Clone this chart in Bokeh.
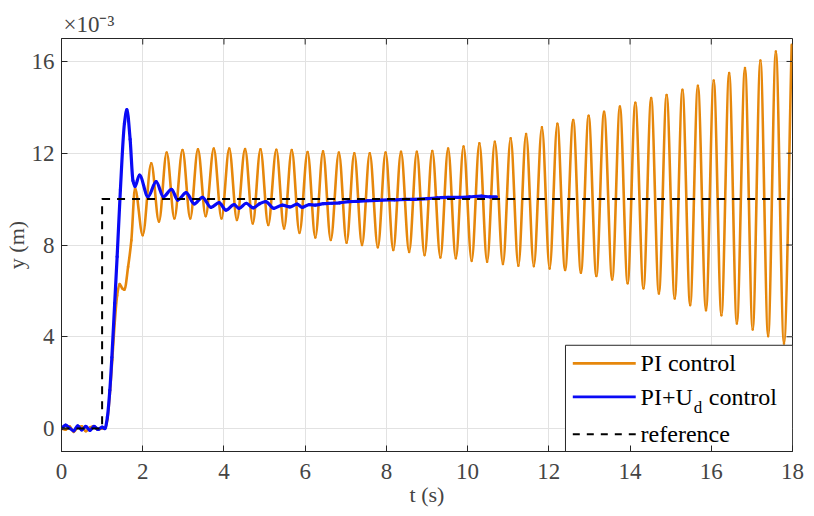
import numpy as np
from bokeh.plotting import figure
from bokeh.models import FixedTicker, Range1d
from bokeh.core.properties import value
from bokeh.embed import file_html
from bokeh.resources import INLINE

# ---------------- data (y in units of 1e-3 m) ----------------
x_ticks = [0, 2, 4, 6, 8, 10, 12, 14, 16, 18]
y_ticks = [0, 4, 8, 12, 16]

ref_t = [0, 1, 1, 18]
ref_y = [0, 0, 10, 10]

# PI control: start-up part
pi_t0 = [0.0, 0.1, 0.2, 0.3, 0.4, 0.5, 0.6, 0.7, 0.8, 0.9, 1.0, 1.07, 1.13, 1.19,
         1.25, 1.31, 1.37, 1.43, 1.50, 1.55, 1.64, 1.72, 1.81, 2.00]
pi_y0 = [0.0, -0.05, 0.1, -0.15, 0.05, 0.1, -0.12, 0.05, 0.1, -0.05, 0.0, 0.0, 0.4, 1.5,
         3.0, 4.6, 5.8, 6.3, 6.1, 6.05, 7.05, 8.2, 10.47, 8.43]
# PI control: oscillation peaks and troughs
pi_peak_t = [2.21, 2.59, 2.98, 3.36, 3.75, 4.13, 4.52, 4.90, 5.29, 5.67, 6.06, 6.44, 6.83,
             7.21, 7.59, 7.98, 8.36, 8.75, 9.13, 9.52, 9.90, 10.29, 10.67, 11.06, 11.44,
             11.83, 12.21, 12.60, 12.98, 13.36, 13.75, 14.13, 14.52, 14.90, 15.29, 15.67,
             16.06, 16.44, 16.83, 17.21, 17.59, 17.98]
pi_peak_y = [11.56, 12.03, 12.14, 12.17, 12.2, 12.2, 12.18, 12.17, 12.15, 12.14, 12.05, 12.08,
             12.03, 12.0, 12.0, 12.03, 12.06, 12.06, 12.1, 12.2, 12.29, 12.43, 12.5, 12.65,
             12.84, 13.13, 13.28, 13.45, 13.63, 13.81, 14.03, 14.2, 14.4, 14.54, 14.76, 14.94,
             15.17, 15.49, 15.71, 16.04, 16.43, 16.72]
pi_trough_t = [2.40, 2.78, 3.17, 3.55, 3.94, 4.32, 4.71, 5.09, 5.48, 5.86, 6.25, 6.63, 7.02,
               7.40, 7.79, 8.17, 8.56, 8.94, 9.33, 9.71, 10.10, 10.48, 10.87, 11.25, 11.63,
               12.02, 12.40, 12.79, 13.17, 13.56, 13.94, 14.33, 14.71, 15.10, 15.48, 15.87,
               16.25, 16.63, 17.02, 17.40, 17.79]
pi_trough_y = [9.02, 9.16, 9.16, 9.26, 9.16, 9.09, 8.94, 8.87, 8.72, 8.53, 8.33, 8.22, 8.1,
               8.0, 7.9, 7.78, 7.7, 7.56, 7.46, 7.42, 7.31, 7.27, 7.17, 7.1, 7.08, 6.98, 6.91,
               6.79, 6.65, 6.5, 6.33, 6.11, 5.89, 5.67, 5.38, 5.16, 4.94, 4.58, 4.32, 4.03, 3.71]

# PI+Ud control
ud_t = [0.0, 0.1, 0.2, 0.3, 0.4, 0.5, 0.6, 0.7, 0.8, 0.9, 1.0, 1.07, 1.13, 1.19, 1.24, 1.31,
        1.37, 1.45, 1.55, 1.61, 1.69, 1.76, 1.81, 1.92, 2.13, 2.33, 2.51, 2.71, 2.86, 3.07,
        3.27, 3.47, 3.68, 3.88, 4.05, 4.25, 4.37, 4.55, 4.72, 4.88, 5.03, 5.23, 5.44, 5.62,
        5.80, 5.93, 6.10, 6.25, 6.45, 6.66, 6.85, 7.07, 7.30, 7.55, 7.89, 8.20, 8.50, 8.71,
        9.00, 9.25, 9.52, 9.80, 10.05, 10.34, 10.55, 10.71]
ud_y = [0.0, 0.15, 0.02, -0.1, 0.12, -0.06, 0.1, -0.08, 0.1, -0.04, 0.06, 0.0, 0.5, 1.67, 3.1,
        5.47, 7.49, 10.4, 13.3, 13.9, 12.6, 10.8, 10.55, 11.05, 10.1, 10.76, 10.1, 10.43, 9.96,
        10.28, 9.79, 10.08, 9.64, 9.85, 9.52, 9.76, 9.6, 9.82, 9.62, 9.8, 9.89, 9.6, 9.74,
        9.66, 9.78, 9.64, 9.76, 9.74, 9.8, 9.82, 9.84, 9.89, 9.9, 9.93, 9.96, 9.97, 9.99,
        9.99, 10.02, 10.05, 10.08, 10.08, 10.1, 10.13, 10.1, 10.1]

# ---------------- helpers ----------------
def smooth_segments(xs, ys):
    """Monotone cubic (Fritsch-Carlson) through the given points, as bezier segments."""
    x = np.asarray(xs, float)
    y = np.asarray(ys, float)
    h = np.diff(x)
    d = np.diff(y) / h
    m = np.zeros_like(x)
    m[0], m[-1] = d[0], d[-1]
    for k in range(1, len(x) - 1):
        if d[k - 1] * d[k] <= 0:
            m[k] = 0.0
        else:
            w1 = 2 * h[k] + h[k - 1]
            w2 = h[k] + 2 * h[k - 1]
            m[k] = (w1 + w2) / (w1 / d[k - 1] + w2 / d[k])
    return dict(x0=x[:-1], y0=y[:-1], x1=x[1:], y1=y[1:],
                cx0=x[:-1] + h / 3, cy0=y[:-1] + m[:-1] * h / 3,
                cx1=x[1:] - h / 3, cy1=y[1:] - m[1:] * h / 3)

pi_t = list(pi_t0)
pi_y = list(pi_y0)
for k in range(len(pi_trough_t)):
    pi_t += [pi_peak_t[k], pi_trough_t[k]]
    pi_y += [pi_peak_y[k], pi_trough_y[k]]
pi_t.append(pi_peak_t[-1])
pi_y.append(pi_peak_y[-1])

ORANGE = "#E6870B"
BLUE = "#0A0AF5"
AX = "#262626"
FONT = "Liberation Serif"
X_MAX, Y_MAX = 18, 17

p = figure(width=806, height=515, x_range=Range1d(0, X_MAX), y_range=Range1d(-1, Y_MAX),
           output_backend="svg", toolbar_location=None,
           min_border_left=58, min_border_right=14, min_border_top=38, min_border_bottom=64)
p.outline_line_color = AX
p.outline_line_width = 1

# title used for the axis multiplier
p.title.text = "\u00d710\u207b\u00b3"
p.title.align = "left"
p.title.offset = 2
p.title.standoff = 3
p.title.text_font = FONT
p.title.text_font_size = "23px"
p.title.text_font_style = "normal"

p.xaxis.ticker = FixedTicker(ticks=x_ticks)
p.yaxis.ticker = FixedTicker(ticks=y_ticks)
p.xaxis.minor_tick_line_color = None
p.yaxis.minor_tick_line_color = None
p.axis.major_tick_in = 6
p.axis.major_tick_out = 0
p.axis.axis_line_color = AX
p.axis.major_tick_line_color = AX
p.xaxis.major_label_text_font = FONT
p.yaxis.major_label_text_font = FONT
p.xaxis.major_label_text_font_size = "23px"
p.yaxis.major_label_text_font_size = "23px"
p.xaxis.major_label_standoff = 12
p.yaxis.major_label_standoff = 7
p.xaxis.axis_label = "t (s)"
p.yaxis.axis_label = "y (m)"
p.axis.axis_label_standoff = 0
p.xaxis.axis_label_text_font = FONT
p.yaxis.axis_label_text_font = FONT
p.axis.axis_label_text_font_size = "22px"
p.axis.axis_label_text_font_style = "normal"

p.xgrid.ticker = FixedTicker(ticks=x_ticks)
p.ygrid.ticker = FixedTicker(ticks=y_ticks)
p.grid.grid_line_color = "#e2e2e2"
p.grid.grid_line_width = 1

# curves
p.bezier(line_color=ORANGE, line_width=2.6, line_cap="round", **smooth_segments(pi_t, pi_y))
p.bezier(line_color=BLUE, line_width=3.2, line_cap="round", **smooth_segments(ud_t, ud_y))
p.line(ref_t, ref_y, line_color="black", line_width=2, line_dash="8 7")

# box ticks on top and right edges (inward, 6 px)
p.ray(x=x_ticks, y=[Y_MAX] * len(x_ticks), length=6, length_units="screen",
      angle=-np.pi / 2, line_color=AX, line_width=1)
p.ray(x=[X_MAX] * len(y_ticks), y=y_ticks, length=6, length_units="screen",
      angle=np.pi, line_color=AX, line_width=1)

# legend (drawn manually to allow the subscript)
p.quad(left=[12.41], right=[18], bottom=[-1], top=[3.63], fill_color="white",
       line_color=AX, line_width=1)
leg_y = [2.84, 1.38, -0.25]
p.segment(x0=[12.59], y0=[leg_y[0]], x1=[14.14], y1=[leg_y[0]], line_color=ORANGE, line_width=2.6)
p.segment(x0=[12.59], y0=[leg_y[1]], x1=[14.14], y1=[leg_y[1]], line_color=BLUE, line_width=2.6)
p.segment(x0=[12.59], y0=[leg_y[2]], x1=[14.14], y1=[leg_y[2]], line_color="black",
          line_width=2, line_dash="7 7")
LF = 24
p.text(x=[14.26, 14.26], y=[leg_y[0], leg_y[2]], text=["PI control", "reference"],
       text_font=value(FONT), text_font_size=f"{LF}px", text_baseline="middle", text_color="black")
p.text(x=[14.26], y=[leg_y[1]], text=["PI+U"], text_font=value(FONT),
       text_font_size=f"{LF}px", text_baseline="middle", text_color="black")
p.text(x=[14.26], y=[leg_y[1]], text=["d"], x_offset=2.175 * LF + 1, y_offset=11,
       text_font=value(FONT), text_font_size="17px", text_baseline="middle", text_color="black")
p.text(x=[14.26], y=[leg_y[1]], text=["control"], x_offset=2.175 * LF + 16,
       text_font=value(FONT), text_font_size=f"{LF}px", text_baseline="middle", text_color="black")

open("out.html", "w").write(file_html(p, INLINE))
